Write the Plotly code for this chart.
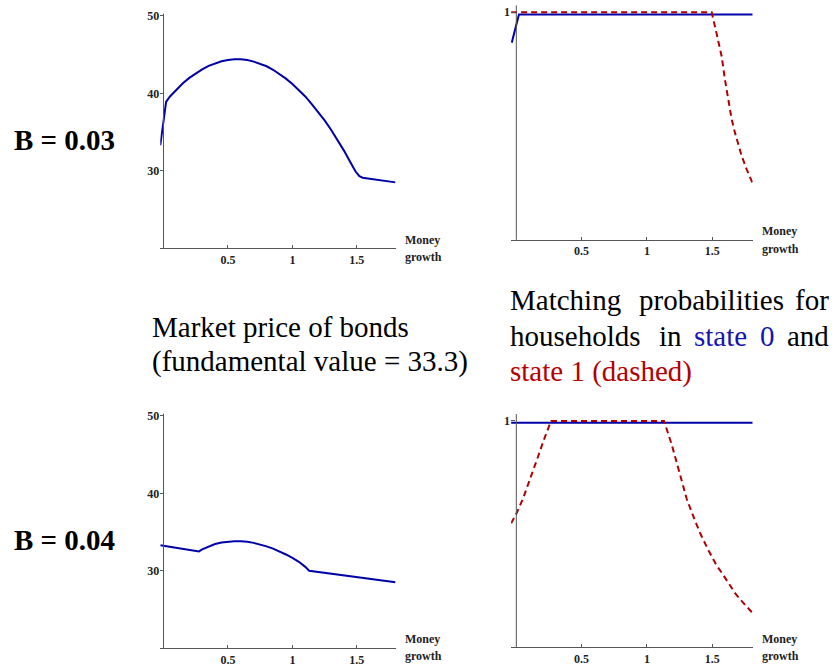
import plotly.graph_objects as go

W, H = 835, 667

# ---------------- data ----------------
# Market price of bonds, B = 0.03
x_price_03 = [-0.025, 0.02, 0.05, 0.1, 0.15, 0.2, 0.25, 0.3, 0.35, 0.4, 0.45, 0.5, 0.55, 0.6,
              0.65, 0.7, 0.75, 0.8, 0.85, 0.9, 0.95, 1.0, 1.05, 1.1, 1.15, 1.2, 1.25, 1.3,
              1.35, 1.4, 1.45, 1.49, 1.52, 1.545, 1.8]
y_price_03 = [33.3, 38.9, 39.6, 40.5, 41.3, 42.0, 42.6, 43.1, 43.55, 43.9, 44.15, 44.3, 44.4, 44.4,
              44.3, 44.1, 43.85, 43.5, 43.05, 42.5, 41.9, 41.2, 40.45, 39.6, 38.6, 37.6, 36.5, 35.3,
              34.0, 32.6, 31.1, 29.9, 29.3, 29.1, 28.5]

# Market price of bonds, B = 0.04
x_price_04 = [-0.025, 0.275, 0.3, 0.35, 0.4, 0.45, 0.5, 0.55, 0.6, 0.65, 0.7, 0.75, 0.8, 0.85,
              0.9, 0.95, 1.0, 1.05, 1.1, 1.13, 1.8]
y_price_04 = [33.3, 32.5, 32.75, 33.15, 33.45, 33.65, 33.75, 33.8, 33.8, 33.75, 33.6, 33.4, 33.15, 32.85,
              32.5, 32.1, 31.65, 31.15, 30.5, 30.0, 28.5]

# Matching probabilities, B = 0.03
x_s0_03 = [-0.035, 0.02, 1.81]
y_s0_03 = [0.866, 0.99, 0.99]
x_s1_03 = [-0.04, 1.496, 1.534, 1.573, 1.598, 1.623, 1.649, 1.675, 1.700, 1.726, 1.764, 1.807]
y_s1_03 = [1.0, 1.0, 0.905, 0.804, 0.702, 0.610, 0.530, 0.469, 0.415, 0.368, 0.310, 0.252]

# Matching probabilities, B = 0.04
x_s0_04 = [-0.04, 1.81]
y_s0_04 = [0.992, 0.992]
x_s1_04 = [-0.04, 0.0, 0.05, 0.092, 0.13, 0.168, 0.21, 0.266, 1.131, 1.19, 1.236, 1.305, 1.368,
           1.407, 1.47, 1.535, 1.573, 1.675, 1.713, 1.807]
y_s1_04 = [0.548, 0.59, 0.655, 0.72, 0.78, 0.845, 0.915, 1.0, 1.0, 0.895, 0.80, 0.655, 0.56,
           0.505, 0.43, 0.36, 0.33, 0.24, 0.213, 0.153]

x_tickvals = [0.5, 1, 1.5]
x_ticktext = ["0.5", "1", "1.5"]
price_tickvals = [30, 40, 50]
prob_tickvals = [1]

# ---------------- style ----------------
BLUE = "#0000a8"
RED = "#b00000"
AXIS = "#555555"
SERIF = "Liberation Serif, Times New Roman, serif"


def fx(px):
    return px / W


def fy(py):
    return 1 - py / H


fig = go.Figure()

# panels: (xaxis id, yaxis id, xrange, xdomain px, yrange, ydomain px(top,bottom), yticks)
panels = [
    ("x", "y", [-0.025, 1.8], (160.3, 395.5), [20, 50.3], (9.7, 246.0), price_tickvals),
    ("x2", "y2", [-0.04, 1.81], (511.1, 752.7), [0, 1.03], (1.4, 237.7), prob_tickvals),
    ("x3", "y3", [-0.025, 1.8], (160.3, 395.5), [20, 50.3], (412.7, 649.0), price_tickvals),
    ("x4", "y4", [-0.04, 1.81], (511.1, 752.7), [0, 1.03], (413.2, 648.3), prob_tickvals),
]

series = [
    ("x", "y", x_price_03, y_price_03, BLUE, "solid"),
    ("x2", "y2", x_s0_03, y_s0_03, BLUE, "solid"),
    ("x2", "y2", x_s1_03, y_s1_03, RED, "6px,4px"),
    ("x3", "y3", x_price_04, y_price_04, BLUE, "solid"),
    ("x4", "y4", x_s0_04, y_s0_04, BLUE, "solid"),
    ("x4", "y4", x_s1_04, y_s1_04, RED, "6px,4px"),
]

for xa, ya, xs, ys, col, dash in series:
    fig.add_trace(go.Scatter(x=xs, y=ys, xaxis=xa, yaxis=ya, mode="lines",
                             line=dict(color=col, width=2, dash=dash),
                             showlegend=False, hoverinfo="skip"))

layout = dict(width=W, height=H, margin=dict(l=0, r=0, t=0, b=0),
              paper_bgcolor="white", plot_bgcolor="white", showlegend=False)

shapes = []
for xa, ya, xr, xd, yr, yd, yt in panels:
    xkey = "xaxis" if xa == "x" else "xaxis" + xa[1:]
    ykey = "yaxis" if ya == "y" else "yaxis" + ya[1:]
    layout[xkey] = dict(domain=[fx(xd[0]), fx(xd[1])], range=xr, anchor=ya,
                        showgrid=False, zeroline=False, showline=True, linecolor=AXIS,
                        linewidth=1, ticks="inside", ticklen=3, tickcolor=AXIS,
                        tickvals=x_tickvals, ticktext=x_ticktext,
                        tickfont=dict(family=SERIF, size=12, color="#222", weight="bold"))
    layout[ykey] = dict(domain=[fy(yd[1]), fy(yd[0])], range=yr, anchor=xa,
                        showgrid=False, zeroline=False, showline=False,
                        ticks="inside", ticklen=4, tickcolor=AXIS,
                        tickvals=yt, ticktext=[str(v) for v in yt],
                        tickfont=dict(family=SERIF, size=12, color="#222", weight="bold"))
    shapes.append(dict(type="line", xref=xa, yref=ya + " domain", x0=0, x1=0, y0=0, y1=1,
                       line=dict(color=AXIS, width=1)))

layout["shapes"] = shapes

ann = []


def text(px, py, s, size=29, color="black", bold=False, xanchor="left"):
    ann.append(dict(x=fx(px), y=fy(py), xref="paper", yref="paper", text=s, showarrow=False,
                    xanchor=xanchor, yanchor="middle",
                    font=dict(family=SERIF, size=size, color=color,
                              weight="bold" if bold else "normal")))


# row labels
text(12, 137, "B = 0.03", bold=True)
text(12, 540, "B = 0.04", bold=True)

# axis titles
for lx, y1, y2 in [(403, 238, 255), (760, 229, 247), (403, 640, 657), (760, 640, 657)]:
    text(lx, y1, "Money", size=12, color="#222", bold=True)
    text(lx, y2, "growth", size=12, color="#222", bold=True)

# captions
text(150, 325, "Market price of bonds")
text(150, 360, "(fundamental value = 33.3)")

TBLUE = "#1414b4"
TRED = "#b40000"
text(508, 298, "Matching")
text(637, 298, "probabilities")
text(831, 298, "for", xanchor="right")
text(508, 335, "households")
text(657, 335, "in")
text(692, 335, "state", color=TBLUE)
text(758, 335, "0", color=TBLUE)
text(831, 335, "and", xanchor="right")
text(508, 370, "state 1 (dashed)", color=TRED)

layout["annotations"] = ann
fig.update_layout(**layout)

fig.write_html("out.html", config={"displayModeBar": False},
               post_script="document.body.style.margin='0';document.body.style.overflow='hidden';")
